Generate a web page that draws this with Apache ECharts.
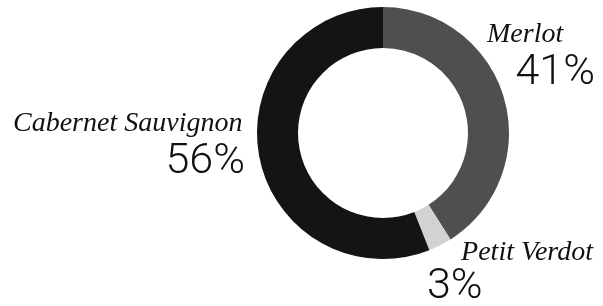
<!DOCTYPE html>
<html><head><meta charset="utf-8">
<script src="https://cdn.jsdelivr.net/npm/echarts@6/dist/echarts.min.js"></script>
<style>html,body{margin:0;padding:0;background:#fff}#c{width:603px;height:306px}</style>
</head><body><div id="c"></div>
<script>
const varieties = ['Merlot', 'Petit Verdot', 'Cabernet Sauvignon'];
const shares = [41, 3, 56];
const colors = ['#4f4f4f', '#d2d2d2', '#141414'];

// label placement (block left/top/width) and per-label line arrangement
const labelBoxes = {
  'Merlot': {x: 487, y: 18, w: 108, nameAlign: 'left', pctAlign: 'right', nameLH: 34},
  'Cabernet Sauvignon': {x: 13, y: 107, w: 232, nameAlign: 'left', pctAlign: 'right', nameLH: 34},
  'Petit Verdot': {x: 427, y: 239, w: 166, nameAlign: 'right', pctAlign: 'left', nameLH: 27}
};

const chart = echarts.init(document.getElementById('c'), null, {renderer: 'canvas'});
chart.setOption({
  animation: false,
  backgroundColor: '#fff',
  series: [{
    type: 'pie',
    center: [383, 133],
    radius: [85, 126],
    startAngle: 90,
    clockwise: true,
    avoidLabelOverlap: false,
    labelLine: {show: false},
    data: varieties.map((n, i) => ({
      name: n, value: shares[i],
      itemStyle: {color: colors[i]},
      label: {
        width: labelBoxes[n].w,
        overflow: 'none',
        rich: {
          n: {fontFamily: 'Liberation Serif', fontStyle: 'italic', fontSize: 28, color: '#111', lineHeight: labelBoxes[n].nameLH, align: labelBoxes[n].nameAlign},
          p: {fontFamily: 'Roboto', fontWeight: 300, fontSize: 43, color: '#111', lineHeight: 42, align: labelBoxes[n].pctAlign}
        }
      }
    })),
    label: {
      show: true,
      position: 'outside',
      overflow: 'none',
      formatter: p => '{n|' + p.name + '}\n{p|' + p.value + '%}'
    },
    labelLayout: p => {
      const key = varieties.find(v => p.text.indexOf(v) >= 0);
      const b = labelBoxes[key];
      return {x: b.x, y: b.y, align: 'left', verticalAlign: 'top', hideOverlap: false};
    }
  }]
});
</script></body></html>
